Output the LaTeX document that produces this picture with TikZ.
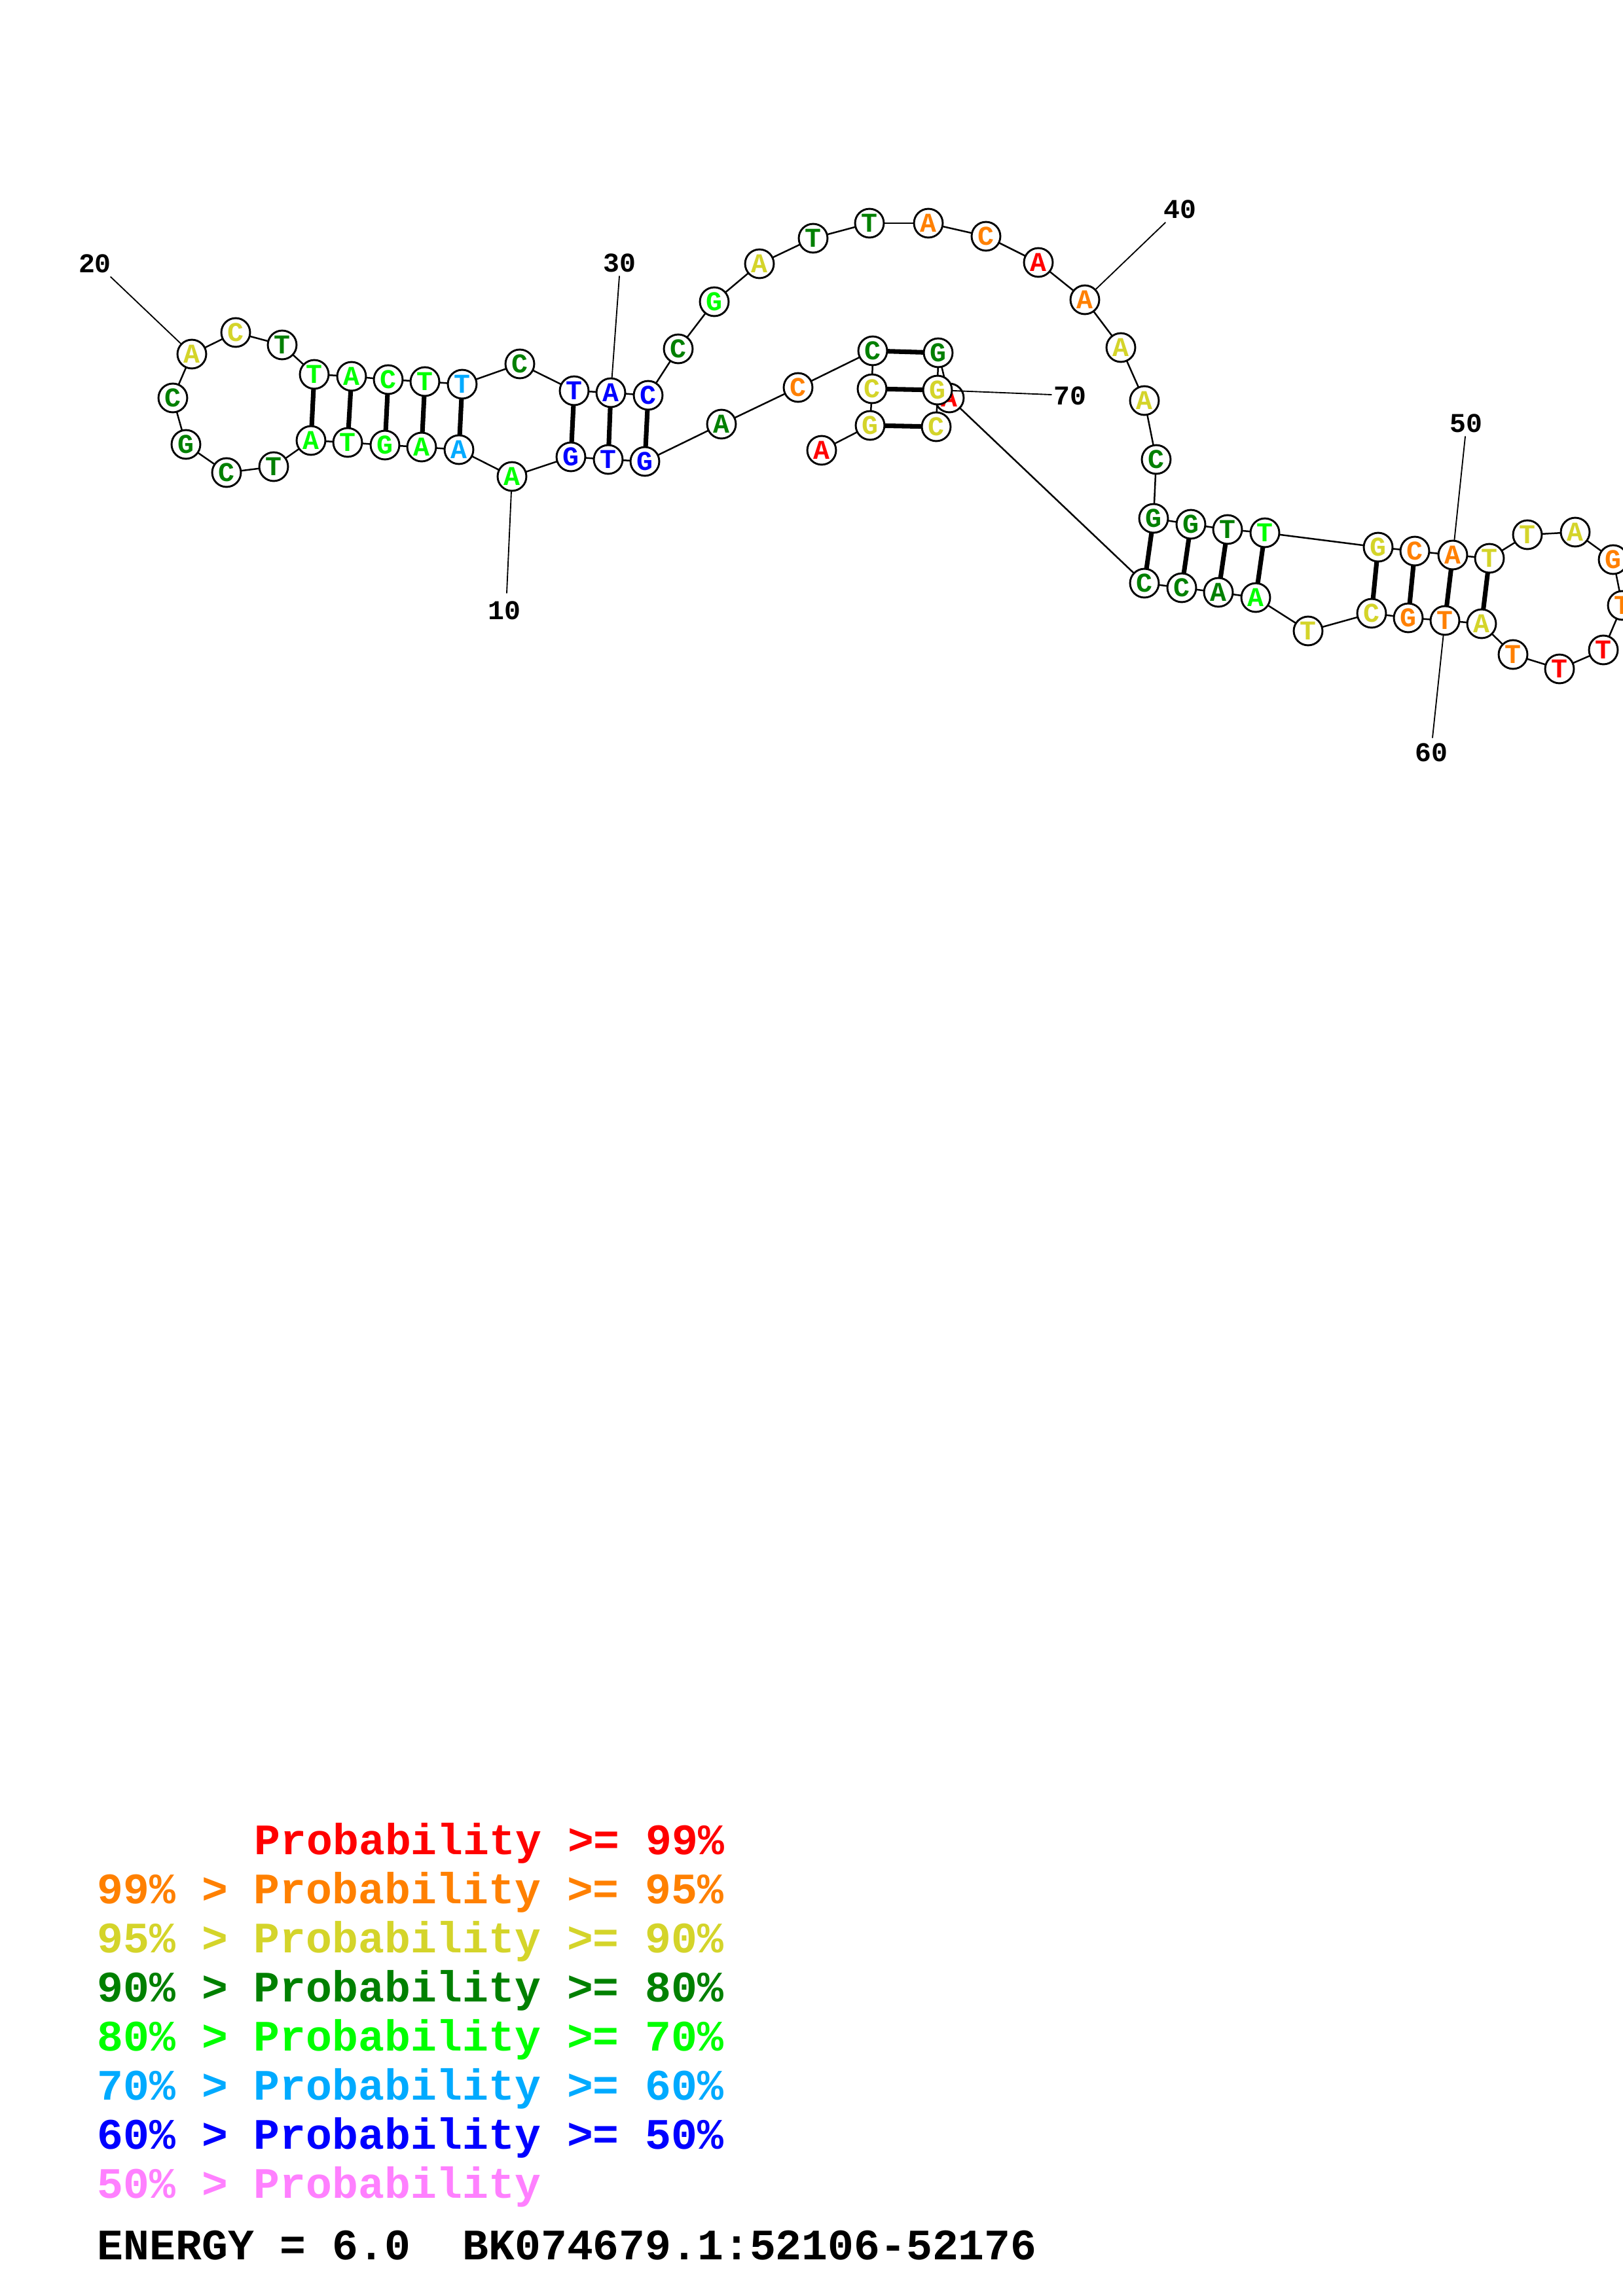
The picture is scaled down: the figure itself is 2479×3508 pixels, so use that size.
\documentclass[tikz,border=0pt]{standalone}
\usepackage{fontspec}
\setmonofont{Liberation Mono}
\usetikzlibrary{backgrounds}
\definecolor{p99}{RGB}{255,0,0}
\definecolor{p95}{RGB}{255,128,0}
\definecolor{p90}{RGB}{212,212,42}
\definecolor{p80}{RGB}{0,128,0}
\definecolor{p70}{RGB}{0,255,0}
\definecolor{p60}{RGB}{0,170,255}
\definecolor{p50}{RGB}{0,0,255}
\definecolor{plow}{RGB}{255,128,255}

\begin{document}
\begin{tikzpicture}[x=0.0846667mm, y=-0.0846667mm, line cap=round]
  \tikzset{
    nt/.style={circle, draw, fill=white, line width=0.7pt, minimum size=3.72mm, inner sep=0pt,
      font=\ttfamily\bfseries\fontsize{10}{10}\selectfont},
    bb/.style={line width=0.6pt},
    bp/.style={line width=1.7pt},
    tick/.style={line width=0.45pt},
    num/.style={inner sep=0pt, font=\ttfamily\bfseries\fontsize{10}{10}\selectfont},
    leg/.style={anchor=base west, inner sep=0pt, font=\ttfamily\bfseries\fontsize{16}{16}\selectfont}
  }
  \useasboundingbox (0,0) rectangle (2479,3508);
  \clip (0,0) rectangle (2479,3508);
  % basen
  \foreach \i/\b/\c/\x/\y in {
      1/A/p99/1255/688, 2/G/p90/1329/650, 3/C/p90/1332/594, 4/C/p80/1333/536,
      5/C/p95/1219/592, 6/A/p80/1102/648, 7/G/p50/985/705, 8/T/p50/929/702,
      9/G/p50/872/698, 10/A/p70/782/728, 11/A/p60/701/687, 12/A/p70/644/683,
      13/G/p70/588/680, 14/T/p70/531/676, 15/A/p70/475/673, 16/T/p80/418/713,
      17/C/p80/346/722, 18/G/p80/284/679, 19/C/p80/264/608, 20/A/p90/293/541,
      21/C/p90/360/508, 22/T/p80/431/527, 23/T/p70/480/572, 24/A/p70/537/575,
      25/C/p70/593/580, 26/T/p70/649/583, 27/T/p60/706/587, 28/C/p80/794/556,
      29/T/p50/877/597, 30/A/p50/933/600, 31/C/p50/990/604, 32/C/p80/1036/533,
      33/G/p70/1091/461, 34/A/p90/1160/403, 35/T/p80/1242/364, 36/T/p80/1328/341,
      37/A/p95/1418/341, 38/C/p95/1506/361, 39/A/p99/1586/401, 40/A/p95/1657/458,
      41/A/p90/1712/531, 42/A/p90/1748/612, 43/C/p80/1766/702, 44/G/p80/1762/792,
      45/G/p80/1819/801, 46/T/p80/1875/809, 47/T/p70/1932/814, 48/G/p90/2105/836,
      49/C/p95/2161/842, 50/A/p95/2219/848, 51/T/p90/2275/853, 52/T/p90/2333/817,
      53/A/p90/2406/813, 54/G/p95/2464/855, 55/T/p95/2478/925, 56/T/p99/2449/993,
      57/T/p99/2382/1022, 58/T/p95/2311/1000, 59/A/p90/2263/953, 60/T/p95/2207/948,
      61/G/p95/2151/944, 62/C/p90/2095/937, 63/T/p90/1998/964, 64/A/p70/1918/913,
      65/A/p80/1861/905, 66/C/p80/1805/898, 67/C/p80/1748/891, 68/A/p99/1450/608,
      69/G/p80/1433/539, 70/G/p90/1432/596, 71/C/p90/1430/652}
    \node[nt, text=\c] (n\i) at (\x,\y) {\b};
  \begin{scope}[on background layer]
    % ruggengraat
    \foreach \i in {1,...,70} {
      \pgfmathtruncatemacro\j{\i+1}
      \draw[bb] (n\i.center) -- (n\j.center);
    }
    % paren
    \foreach \i/\j in {2/71, 3/70, 4/69, 7/31, 8/30, 9/29, 11/27, 12/26, 13/25,
        14/24, 15/23, 44/67, 45/66, 46/65, 47/64, 48/62, 49/61, 50/60, 51/59}
      \draw[bp] (n\i.center) -- (n\j.center);
  \end{scope}
  % nummers
  \foreach \k/\ex/\ey/\lx/\ly in {10/774/906/770/933, 20/169/423/145/403,
      30/946/422/946/402, 40/1780/340/1802/320, 50/2238/667/2239/647,
      60/2188/1127/2186/1150, 70/1606/603/1634/605} {
    \coordinate (e\k) at (\ex,\ey);
    \node[num] (l\k) at (\lx,\ly) {\k};
    \draw[tick] (n\k) -- (e\k);
  }
  % legenda
  \node[leg, text=p99] (r1) at (388,2833) {Probability >= 99\%};
  \node[leg, text=p95] (r2) at (148,2908) {99\% > Probability >= 95\%};
  \node[leg, text=p90] (r3) at (148,2983) {95\% > Probability >= 90\%};
  \node[leg, text=p80] (r4) at (148,3058) {90\% > Probability >= 80\%};
  \node[leg, text=p70] (r5) at (148,3133) {80\% > Probability >= 70\%};
  \node[leg, text=p60] (r6) at (148,3208) {70\% > Probability >= 60\%};
  \node[leg, text=p50] (r7) at (148,3283) {60\% > Probability >= 50\%};
  \node[leg, text=plow] (r8) at (148,3358) {50\% > Probability};
  \node[leg] (en) at (148,3452) {ENERGY = 6.0\ \ BK074679.1:52106-52176};
\end{tikzpicture}
\end{document}
